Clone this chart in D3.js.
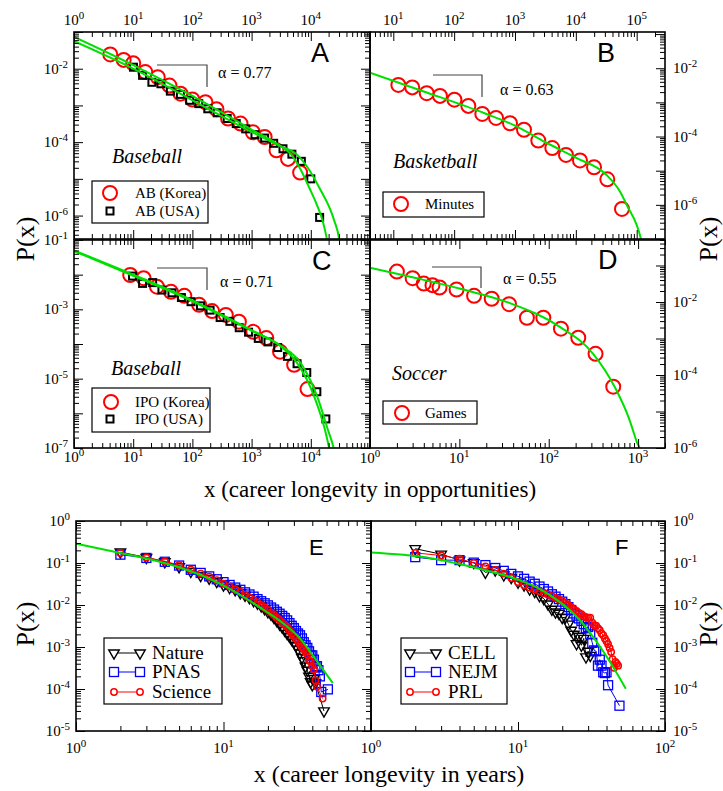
<!DOCTYPE html>
<html>
<head>
<meta charset="utf-8">
<script src="https://d3js.org/d3.v7.min.js"></script>
<style>
  body { margin: 0; background: #fff; }
  text { font-family: 'Liberation Serif', 'Times New Roman', serif; fill: #000; }
  .letter { font-family: 'Liberation Sans', Arial, sans-serif; }
</style>
</head>
<body>
<svg id="chart" width="723" height="791"></svg>
<script>
// ---- data ----
// A: at-bats, baseball
const abKoreaX = [4.1, 6.9, 10, 16, 26, 41, 63, 100, 166, 255, 400, 650, 1050, 1660, 2630, 4120, 6600];
const abKoreaP = [0.0245, 0.0174, 0.0141, 0.0081, 0.0059, 0.00347, 0.00209, 0.00145, 0.00123, 7.9e-4, 4.4e-4, 3.2e-4, 1.86e-4, 1.38e-4, 6.0e-5, 3.5e-5, 1.48e-5];
const abUsaX = [10.1, 14.4, 20.7, 29.4, 42.4, 62.7, 90, 128, 182, 262, 387, 550, 794, 1140, 1660, 2360, 3390, 4790, 6920, 10000, 14100];
const abUsaP = [0.011, 0.0066, 0.00427, 0.00389, 0.00245, 0.002, 0.00138, 0.00112, 8.1e-4, 6.3e-4, 4.4e-4, 3.2e-4, 2.3e-4, 1.6e-4, 1.29e-4, 9.3e-5, 6.6e-5, 4.7e-5, 3.0e-5, 1.0e-5, 8.9e-7];
const abKoreaFit = [[1, 0.074], [10, 0.0126], [100, 0.00182], [1000, 2.19e-4], [3162, 7.6e-5], [4570, 4.8e-5], [6760, 1.78e-5], [9330, 5.9e-6], [12600, 2.0e-6], [15850, 7.2e-7], [18600, 2.4e-7], [19500, 1.6e-7]];
const abUsaFit = [[1, 0.056], [10, 0.01], [100, 0.00138], [1000, 1.9e-4], [3162, 7.6e-5], [5620, 4.8e-5], [8900, 2.0e-5], [13800, 5.9e-6], [24800, 7.4e-7], [29900, 2.4e-7], [30900, 1.6e-7]];

// B: minutes, basketball
const minutesX = [12.1, 20.5, 35.4, 58.5, 101, 171, 290, 488, 828, 1406, 2415, 4100, 6890, 11700, 19900, 32900, 57300];
const minutesP = [3.24e-3, 2.75e-3, 1.86e-3, 1.55e-3, 1.2e-3, 7.9e-4, 4.6e-4, 3.5e-4, 2.45e-4, 1.58e-4, 7.6e-5, 4.6e-5, 2.9e-5, 2.0e-5, 1.26e-5, 5.6e-6, 7.6e-7];
const minutesFit = [[4.14, 7.4e-3], [31.6, 2.09e-3], [316, 4.8e-4], [1000, 2.09e-4], [3162, 6.8e-5], [10000, 2.4e-5], [31620, 7.6e-6], [53100, 2.45e-6], [68500, 1e-6], [117500, 1e-7], [125000, 6e-8]];

// C: innings pitched outs, baseball
const ipoKoreaX = [8.9, 15, 25.2, 43.5, 73.1, 130, 215, 367, 610, 1067, 1774, 3020, 5224, 8790];
const ipoKoreaP = [9.8e-3, 7.9e-3, 4.5e-3, 3.2e-3, 2.45e-3, 1.35e-3, 8.9e-4, 6.9e-4, 4.4e-4, 2.24e-4, 1.48e-4, 6.0e-5, 2.5e-5, 5.0e-6];
const ipoUsaX = [9.75, 14.4, 21.3, 30.6, 45.2, 65.2, 94.8, 137, 199, 294, 430, 618, 889, 1297, 1892, 2760, 4030, 5860, 8550, 12650, 17950];
const ipoUsaP = [9.1e-3, 5.6e-3, 5.9e-3, 3.6e-3, 3.0e-3, 2.19e-3, 1.66e-3, 1.26e-3, 9.5e-4, 5.8e-4, 4.5e-4, 2.95e-4, 2.19e-4, 1.45e-4, 1.15e-4, 7.9e-5, 4.4e-5, 2.7e-5, 1.5e-5, 4.2e-6, 6.9e-7];
const ipoKoreaFit = [[1, 0.05], [10, 0.01], [100, 1.82e-3], [1000, 2.5e-4], [3162, 8.3e-5], [5890, 2.8e-5], [11480, 3.0e-6], [17380, 3.3e-7], [20400, 1e-7], [21900, 5.6e-8]];
const ipoUsaFit = [[1, 0.048], [10, 9.3e-3], [100, 1.7e-3], [1000, 2.4e-4], [3162, 8.7e-5], [6760, 2.8e-5], [12900, 3.0e-6], [19500, 3.3e-7], [24300, 1e-7], [25700, 6.3e-8]];

// D: games, soccer
const gamesX = [2, 3, 4, 5, 6, 9.3, 14.6, 23, 36, 57, 87, 137, 214, 334, 527];
const gamesP = [0.068, 0.045, 0.032, 0.029, 0.025, 0.022, 0.0148, 0.0123, 8.7e-3, 3.7e-3, 3.7e-3, 1.86e-3, 1.05e-3, 3.8e-4, 4.8e-5];
const gamesFit = [[1, 0.087], [3.16, 0.046], [10, 0.0234], [36.8, 9.3e-3], [133, 2.09e-3], [314, 3.8e-4], [550, 4.6e-5], [794, 6.3e-6], [977, 1.38e-6], [1047, 9.1e-7], [1080, 5e-7]];

// E: journals (years)
const nature = [[2,0.182],[3,0.135],[4,0.107],[5,0.081],[6,0.063],[7,0.05],[8,0.043],[9,0.036],[10,0.030],[11,0.026],[12,0.023],[13,0.0195],[14,0.017],[15,0.0148],[16,0.0126],[17,0.011],[18,0.0095],[19,0.0081],[20,0.0069],[21,0.006],[22,0.005],[23,0.0042],[24,0.0035],[25,0.003],[26,0.0025],[27,0.0021],[28,0.0018],[29,0.0015],[30,0.0013],[31,0.0011],[32,0.00089],[33,0.00072],[34,0.00056],[35,0.00047],[36,0.00035],[37,0.00028],[38,0.0002],[39,0.000148],[40,0.000126],[41,0.000178],[42,0.000141],[48,0.00003]];
const pnas = [[2,0.158],[3,0.132],[4,0.107],[5,0.087],[6,0.069],[7,0.058],[8,0.048],[9,0.041],[10,0.035],[11,0.030],[12,0.026],[13,0.023],[14,0.02],[15,0.0178],[16,0.0158],[17,0.0138],[18,0.0123],[19,0.011],[20,0.0098],[21,0.0087],[22,0.0078],[23,0.0069],[24,0.0062],[25,0.0055],[26,0.0049],[27,0.0043],[28,0.0037],[29,0.0032],[30,0.0028],[31,0.0024],[32,0.0021],[33,0.0019],[34,0.0016],[35,0.0013],[36,0.0011],[37,0.00095],[38,0.00079],[39,0.00063],[40,0.00063],[41,0.0005],[42,0.00033],[43,0.00035],[44,0.00028],[45,0.0002],[46,0.000085],[51,0.000098]];
const science = [[2,0.174],[3,0.135],[4,0.11],[5,0.089],[6,0.069],[7,0.056],[8,0.047],[9,0.039],[10,0.032],[11,0.0275],[12,0.0234],[13,0.0204],[14,0.0174],[15,0.0151],[16,0.0132],[17,0.0115],[18,0.01],[19,0.0087],[20,0.0076],[21,0.0066],[22,0.0058],[23,0.005],[24,0.0044],[25,0.0038],[26,0.0034],[27,0.003],[28,0.0025],[29,0.0021],[30,0.0018],[31,0.0016],[32,0.00135],[33,0.00117],[34,0.001],[35,0.00089],[36,0.00076],[37,0.00066],[38,0.00048],[39,0.00045],[40,0.00035],[41,0.00029],[42,0.00016],[43,0.000115],[47,0.000059]];
const journalFitE = [[1,0.288],[2,0.174],[3.16,0.123],[5,0.079],[9.5,0.032],[19.7,0.0068],[25.5,0.0036],[33.1,0.00158],[40.7,0.0006],[55.1,0.000138]];

// F: journals (years)
const cell = [[2,0.219],[3,0.162],[4,0.117],[5,0.102],[6,0.060],[7,0.068],[8,0.052],[9,0.045],[10,0.035],[11,0.030],[12,0.024],[13,0.021],[14,0.0166],[15,0.0141],[16,0.0105],[17,0.0079],[18,0.0068],[19,0.0063],[20,0.005],[21,0.0051],[22,0.0035],[23,0.0025],[24,0.002],[25,0.0012],[26,0.0018],[27,0.0011],[28,0.0016],[29,0.00058],[30,0.00079],[31,0.00063]];
const nejm = [[2,0.138],[3,0.117],[4,0.117],[5,0.102],[6,0.089],[7,0.076],[8,0.065],[9,0.055],[10,0.048],[11,0.042],[12,0.036],[13,0.032],[14,0.0275],[15,0.024],[16,0.021],[17,0.018],[18,0.0158],[19,0.0138],[20,0.012],[21,0.0105],[22,0.0089],[23,0.0076],[24,0.0063],[25,0.0056],[26,0.0048],[27,0.0042],[28,0.0035],[29,0.0028],[30,0.003],[31,0.002],[32,0.00126],[33,0.00083],[34,0.00079],[35,0.00036],[36,0.0005],[37,0.00036],[38,0.00025],[39,0.00024],[40,0.00025],[41,0.000123],[49,0.00004]];
const prl = [[2,0.174],[3,0.151],[4,0.126],[5,0.1],[6,0.083],[7,0.068],[8,0.056],[9,0.044],[10,0.035],[11,0.030],[12,0.026],[13,0.0234],[14,0.021],[15,0.019],[16,0.0178],[17,0.0162],[18,0.0148],[19,0.0135],[20,0.0126],[21,0.0112],[22,0.01],[23,0.0089],[24,0.0079],[25,0.0072],[26,0.0065],[27,0.006],[28,0.0054],[29,0.0051],[30,0.005],[31,0.005],[32,0.0038],[33,0.0033],[34,0.0032],[35,0.0028],[36,0.0025],[37,0.0021],[38,0.0019],[39,0.0016],[40,0.00138],[41,0.00117],[42,0.00095],[43,0.00076],[44,0.00051],[45,0.00032],[46,0.00044],[47,0.0004],[48,0.00036]];
const journalFitF = [[1,0.178],[2.39,0.135],[4.97,0.079],[10,0.04],[14.1,0.024],[19.3,0.0117],[26.3,0.0044],[34.3,0.00132],[42.3,0.00044],[54.1,0.000102]];

const GREEN = "#00e000", RED = "#ff0000", BLUE = "#0000ff";
const svg = d3.select("#chart");

// build a log-log panel: box = [left, right, top, bottom]
function makePanel(id, box, xd, yd) {
  const x = d3.scaleLog().domain(xd).range([box[0], box[1]]);
  const y = d3.scaleLog().domain(yd).range([box[3], box[2]]);
  const g = svg.append("g");
  g.append("clipPath").attr("id", "clip" + id).append("rect")
    .attr("x", box[0]).attr("y", box[2]).attr("width", box[1] - box[0]).attr("height", box[3] - box[2]);
  const plot = g.append("g").attr("clip-path", "url(#clip" + id + ")");
  return { x, y, g, plot, box };
}

function isMajor(t) { const l = Math.log10(t); return Math.abs(l - Math.round(l)) < 1e-6; }

// inward ticks, major and minor
function ticks(p, side) {
  const [x0, x1, y0, y1] = p.box;
  const sc = (side === "top" || side === "bottom") ? p.x : p.y;
  const vals = sc.ticks();
  const gen = { top: d3.axisTop, bottom: d3.axisBottom, left: d3.axisLeft, right: d3.axisRight }[side];
  const tr = { top: `translate(0,${y0})`, bottom: `translate(0,${y1})`, left: `translate(${x0},0)`, right: `translate(${x1},0)` }[side];
  [[vals.filter(isMajor), 9], [vals.filter(t => !isMajor(t)), 5]].forEach(([v, len]) => {
    p.g.append("g").attr("transform", tr)
      .call(gen(sc).tickValues(v).tickSize(-len).tickFormat(""))
      .call(a => a.select(".domain").remove())
      .call(a => a.selectAll("text").remove())
      .selectAll("line").attr("stroke", "#000").attr("stroke-width", 1);
  });
}

function powLabel(g, x, y, exp, anchor) {
  const t = g.append("text").attr("x", x).attr("y", y).attr("text-anchor", anchor).attr("font-size", 15);
  t.append("tspan").text("10");
  t.append("tspan").attr("dy", -6).attr("font-size", 11).text(exp);
}

function xLabels(p, exps, yy) {
  exps.forEach(e => powLabel(p.g, p.x(Math.pow(10, e)), yy, String(e), "middle"));
}
function yLabels(p, exps, side) {
  exps.forEach(e => {
    const yy = p.y(Math.pow(10, e)) + 5;
    if (side === "left") powLabel(p.g, p.box[0] - 6, yy, String(e), "end");
    else powLabel(p.g, p.box[1] + 8, yy, String(e), "start");
  });
}

function fitLine(p, pts, w) {
  p.plot.append("path").datum(pts)
    .attr("d", d3.line().x(d => p.x(d[0])).y(d => p.y(d[1])).curve(d3.curveMonotoneX))
    .attr("fill", "none").attr("stroke", GREEN).attr("stroke-width", w || 2);
}

function circles(p, xs, ps, r, w) {
  p.plot.append("g").selectAll("circle").data(d3.zip(xs, ps)).join("circle")
    .attr("cx", d => p.x(d[0])).attr("cy", d => p.y(d[1])).attr("r", r)
    .attr("fill", "none").attr("stroke", RED).attr("stroke-width", w);
}
function squares(p, xs, ps, s, color, w) {
  p.plot.append("g").selectAll("rect").data(d3.zip(xs, ps)).join("rect")
    .attr("x", d => p.x(d[0]) - s / 2).attr("y", d => p.y(d[1]) - s / 2)
    .attr("width", s).attr("height", s)
    .attr("fill", "none").attr("stroke", color).attr("stroke-width", w);
}
function triangles(p, xs, ps) {
  const sym = d3.symbol().type(d3.symbolTriangle).size(48);
  p.plot.append("g").selectAll("path").data(d3.zip(xs, ps)).join("path")
    .attr("d", sym)
    .attr("transform", d => `translate(${p.x(d[0])},${p.y(d[1])}) rotate(180)`)
    .attr("fill", "none").attr("stroke", "#000").attr("stroke-width", 1.4);
}
function connect(p, pts, color) {
  p.plot.append("path").datum(pts)
    .attr("d", d3.line().x(d => p.x(d[0])).y(d => p.y(d[1])))
    .attr("fill", "none").attr("stroke", color).attr("stroke-width", 1);
}

function frame(p) {
  const [x0, x1, y0, y1] = p.box;
  p.g.append("rect").attr("x", x0).attr("y", y0).attr("width", x1 - x0).attr("height", y1 - y0)
    .attr("fill", "none").attr("stroke", "#000").attr("stroke-width", 1.6);
}

function letter(p, s, x, y, size) {
  p.g.append("text").attr("class", "letter").attr("x", x).attr("y", y).attr("font-size", size).text(s);
}
function sport(p, s, x, y) {
  p.g.append("text").attr("x", x).attr("y", y).attr("font-size", 20).attr("font-style", "italic").text(s);
}
function alphaNote(p, x0, x1, yTop, yBot, tx, ty, s) {
  p.g.append("path").attr("d", `M${x0},${yTop}H${x1}V${yBot}`)
    .attr("fill", "none").attr("stroke", "#444").attr("stroke-width", 1.2);
  p.g.append("text").attr("x", tx).attr("y", ty).attr("font-size", 16).text(s);
}
function legendBox(g, x0, y0, x1, y1) {
  g.append("rect").attr("x", x0).attr("y", y0).attr("width", x1 - x0).attr("height", y1 - y0)
    .attr("fill", "#fff").attr("stroke", "#000").attr("stroke-width", 1.2);
}

// ---------- panel A ----------
const A = makePanel("A", [74, 370, 32, 239], [1, 1e5], [2.3e-7, 0.1]);
circles(A, abKoreaX, abKoreaP, 7, 2);
squares(A, abUsaX, abUsaP, 7, "#000", 2);
fitLine(A, abKoreaFit); fitLine(A, abUsaFit);
["left", "right", "top", "bottom"].forEach(s => ticks(A, s));
xLabels(A, [0, 1, 2, 3, 4], 25);
yLabels(A, [-2, -4, -6], "left");
letter(A, "A", 311, 62, 27);
sport(A, "Baseball", 112, 163);
alphaNote(A, 157, 207, 65, 87, 218, 78, "\u03b1 = 0.77");
legendBox(A.g, 92, 181, 208, 223);
A.g.append("circle").attr("cx", 110).attr("cy", 193).attr("r", 7).attr("fill", "none").attr("stroke", RED).attr("stroke-width", 2);
A.g.append("rect").attr("x", 106.5).attr("y", 207.5).attr("width", 7).attr("height", 7).attr("fill", "none").attr("stroke", "#000").attr("stroke-width", 2);
A.g.append("text").attr("x", 135).attr("y", 198).attr("font-size", 15).text("AB (Korea)");
A.g.append("text").attr("x", 135).attr("y", 216).attr("font-size", 15).text("AB (USA)");

// ---------- panel B ----------
const B = makePanel("B", [370, 665, 32, 239], [4.14, 2.92e5], [1e-7, 0.115]);
circles(B, minutesX, minutesP, 7, 2);
fitLine(B, minutesFit);
["right", "top", "bottom"].forEach(s => ticks(B, s));
xLabels(B, [1, 2, 3, 4, 5], 25);
yLabels(B, [-2, -4, -6], "right");
letter(B, "B", 597, 62, 27);
sport(B, "Basketball", 393, 168);
alphaNote(B, 433, 482, 75, 97, 500, 95, "\u03b1 = 0.63");
legendBox(B.g, 383, 192, 484, 217);
B.g.append("circle").attr("cx", 401).attr("cy", 204).attr("r", 7).attr("fill", "none").attr("stroke", RED).attr("stroke-width", 2);
B.g.append("text").attr("x", 425).attr("y", 209).attr("font-size", 15).text("Minutes");

// ---------- panel C ----------
const C = makePanel("C", [74, 370, 240, 448], [1, 1e5], [1e-7, 0.1]);
circles(C, ipoKoreaX, ipoKoreaP, 7, 2);
squares(C, ipoUsaX, ipoUsaP, 7, "#000", 2);
fitLine(C, ipoKoreaFit); fitLine(C, ipoUsaFit);
["left", "right", "top", "bottom"].forEach(s => ticks(C, s));
xLabels(C, [0, 1, 2, 3, 4], 462);
yLabels(C, [-1, -3, -5, -7], "left");
letter(C, "C", 312, 270, 27);
sport(C, "Baseball", 111, 375);
alphaNote(C, 157, 207, 268, 290, 220, 287, "\u03b1 = 0.71");
legendBox(C.g, 92, 388, 210, 432);
C.g.append("circle").attr("cx", 111).attr("cy", 402).attr("r", 7).attr("fill", "none").attr("stroke", RED).attr("stroke-width", 2);
C.g.append("rect").attr("x", 106.5).attr("y", 415.5).attr("width", 7).attr("height", 7).attr("fill", "none").attr("stroke", "#000").attr("stroke-width", 2);
C.g.append("text").attr("x", 135).attr("y", 407).attr("font-size", 15).text("IPO (Korea)");
C.g.append("text").attr("x", 135).attr("y", 424).attr("font-size", 15).text("IPO (USA)");

// ---------- panel D ----------
const D = makePanel("D", [370, 665, 240, 448], [1, 2000], [1e-6, 0.5]);
circles(D, gamesX, gamesP, 7, 2);
fitLine(D, gamesFit);
["right", "top", "bottom"].forEach(s => ticks(D, s));
xLabels(D, [0, 1, 2, 3], 463);
yLabels(D, [-2, -4, -6], "right");
letter(D, "D", 598, 269, 27);
sport(D, "Soccer", 392, 380);
alphaNote(D, 432, 481, 267, 288, 503, 284, "\u03b1 = 0.55");
legendBox(D.g, 383, 401, 477, 424);
D.g.append("circle").attr("cx", 402).attr("cy", 413).attr("r", 7).attr("fill", "none").attr("stroke", RED).attr("stroke-width", 2);
D.g.append("text").attr("x", 425).attr("y", 418).attr("font-size", 15).text("Games");

[A, B, C, D].forEach(frame);

// ---------- panel E ----------
const E = makePanel("E", [76, 371, 521, 731], [1, 100], [1e-5, 1]);
connect(E, nature, "#000");
triangles(E, nature.map(d => d[0]), nature.map(d => d[1]));
connect(E, pnas, BLUE);
squares(E, pnas.map(d => d[0]), pnas.map(d => d[1]), 9, BLUE, 1.3);
connect(E, science, RED);
E.plot.append("g").selectAll("circle").data(science).join("circle")
  .attr("cx", d => E.x(d[0])).attr("cy", d => E.y(d[1])).attr("r", 3.2)
  .attr("fill", "none").attr("stroke", RED).attr("stroke-width", 1.5);
fitLine(E, journalFitE, 2);
["left", "right", "top", "bottom"].forEach(s => ticks(E, s));
xLabels(E, [0, 1], 753);
yLabels(E, [0, -1, -2, -3, -4, -5], "left");
letter(E, "E", 309, 555, 22);

// ---------- panel F ----------
const F = makePanel("F", [371, 665, 521, 731], [1, 100], [1e-5, 1]);
connect(F, cell, "#000");
triangles(F, cell.map(d => d[0]), cell.map(d => d[1]));
connect(F, nejm, BLUE);
squares(F, nejm.map(d => d[0]), nejm.map(d => d[1]), 9, BLUE, 1.3);
connect(F, prl, RED);
F.plot.append("g").selectAll("circle").data(prl).join("circle")
  .attr("cx", d => F.x(d[0])).attr("cy", d => F.y(d[1])).attr("r", 3.2)
  .attr("fill", "none").attr("stroke", RED).attr("stroke-width", 1.5);
fitLine(F, journalFitF, 2);
["right", "top", "bottom"].forEach(s => ticks(F, s));
xLabels(F, [0, 1, 2], 753);
yLabels(F, [0, -1, -2, -3, -4, -5], "right");
letter(F, "F", 615, 555, 22);

[E, F].forEach(frame);

// journal legends
function journalLegend(g, x0, y0, x1, y1, lx0, lx1, names) {
  legendBox(g, x0, y0, x1, y1);
  const rows = [653, 672, 692];
  names.forEach((n, i) => {
    const yy = rows[i];
    const col = [ "#000", BLUE, RED ][i];
    g.append("line").attr("x1", lx0).attr("x2", lx1).attr("y1", yy).attr("y2", yy).attr("stroke", col).attr("stroke-width", 1);
    [lx0, lx1].forEach(xx => {
      if (i === 0) g.append("path").attr("d", d3.symbol().type(d3.symbolTriangle).size(48))
        .attr("transform", `translate(${xx},${yy}) rotate(180)`).attr("fill", "#fff").attr("stroke", "#000").attr("stroke-width", 1.4);
      else if (i === 1) g.append("rect").attr("x", xx - 4.5).attr("y", yy - 4.5).attr("width", 9).attr("height", 9)
        .attr("fill", "#fff").attr("stroke", BLUE).attr("stroke-width", 1.3);
      else g.append("circle").attr("cx", xx).attr("cy", yy).attr("r", 3.2).attr("fill", "#fff").attr("stroke", RED).attr("stroke-width", 1.5);
    });
    g.append("text").attr("x", lx1 + 12).attr("y", yy + 6).attr("font-size", 19).text(n);
  });
}
journalLegend(E.g, 104, 638, 222, 704, 114, 140, ["Nature", "PNAS", "Science"]);
journalLegend(F.g, 401, 638, 507, 704, 410, 436, ["CELL", "NEJM", "PRL"]);

// ---------- axis titles ----------
function vTitle(x, y) {
  svg.append("text").attr("transform", `translate(${x},${y}) rotate(-90)`)
    .attr("text-anchor", "middle").attr("dominant-baseline", "central").attr("font-size", 26).text("P(x)");
}
vTitle(25, 239); vTitle(708, 239); vTitle(25, 624); vTitle(708, 624);
svg.append("text").attr("x", 370).attr("y", 497).attr("text-anchor", "middle").attr("font-size", 23)
  .text("x (career longevity in opportunities)");
svg.append("text").attr("x", 389).attr("y", 782).attr("text-anchor", "middle").attr("font-size", 24)
  .text("x (career longevity in years)");
</script>
</body>
</html>
